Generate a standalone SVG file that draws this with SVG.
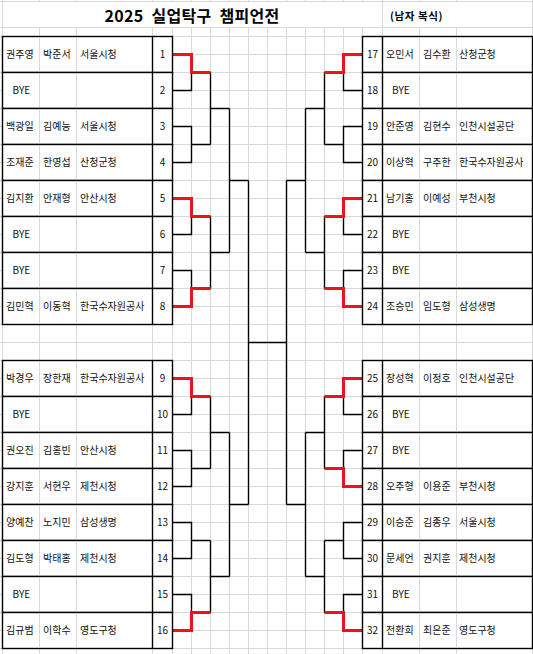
<svg xmlns="http://www.w3.org/2000/svg" width="533" height="654" viewBox="0 0 533 654">
<style>
.gr{stroke:#d9d9d9;stroke-width:1;fill:none}
.b{stroke:#000;stroke-width:1.4;fill:none}
.cell{fill:#fff;stroke:#000;stroke-width:1.4}
.r{stroke:#e8161c;stroke-width:3;fill:none}
text{font-family:"Noto Sans CJK KR","Noto Sans",sans-serif;font-size:10px;fill:#111}
.num{text-anchor:middle}
.title{font-size:16px;font-weight:bold;text-anchor:middle;fill:#000;word-spacing:4px;letter-spacing:0.3px}
.sub{font-size:10.5px;font-weight:bold;fill:#000;letter-spacing:0.6px}
</style>
<rect width="533" height="654" fill="#fff"/>
<g id="grid">
<path class="gr" d="M0,1.5H533M0,27.5H533M0,36.5H533M0,54.5H533M0,72.5H533M0,90.5H533M0,108.5H533M0,126.5H533M0,144.5H533M0,162.5H533M0,180.5H533M0,198.5H533M0,216.5H533M0,234.5H533M0,252.5H533M0,270.5H533M0,288.5H533M0,306.5H533M0,324.5H533M0,342.5H533M0,360.5H533M0,378.5H533M0,396.5H533M0,414.5H533M0,432.5H533M0,450.5H533M0,468.5H533M0,486.5H533M0,504.5H533M0,522.5H533M0,540.5H533M0,558.5H533M0,576.5H533M0,594.5H533M0,612.5H533M0,630.5H533M0,648.5H533"/>
<path class="gr" d="M2.5,0V654M39.5,0V654M76.5,0V654M152.5,0V654M172.5,0V654M191.5,0V654M210.5,0V654M229.5,0V654M248.5,0V654M267.5,0V654M286.5,0V654M305.5,0V654M324.5,0V654M343.5,0V654M362.5,0V654M382.5,0V654M419.5,0V654M456.5,0V654M532.5,0V654"/>
<rect x="3" y="2" width="379" height="25" fill="#fff"/>
<rect x="383" y="2" width="149" height="25" fill="#fff"/>
</g>
<g id="title">
<text class="title" x="192" y="21.5">2025 실업탁구 챔피언전</text>
<text class="sub" x="390" y="19.5">(남자 복식)</text>
</g>
<g id="connectors">
<path class="b" d="M172.5,54.5H191.5V90.5H172.5M172.5,126.5H191.5V162.5H172.5M172.5,198.5H191.5V234.5H172.5M172.5,270.5H191.5V306.5H172.5M191.5,72.5H210.5M191.5,144.5H210.5M191.5,216.5H210.5M191.5,288.5H210.5M210.5,72.5V144.5M210.5,216.5V288.5M210.5,108.5H229.5M210.5,252.5H229.5M229.5,108.5V252.5M229.5,180.5H248.5"/>
<path class="b" d="M172.5,378.5H191.5V414.5H172.5M172.5,450.5H191.5V486.5H172.5M172.5,522.5H191.5V558.5H172.5M172.5,594.5H191.5V630.5H172.5M191.5,396.5H210.5M191.5,468.5H210.5M191.5,540.5H210.5M191.5,612.5H210.5M210.5,396.5V468.5M210.5,540.5V612.5M210.5,432.5H229.5M210.5,576.5H229.5M229.5,432.5V576.5M229.5,504.5H248.5"/>
<path class="b" d="M248.5,180.5V504.5M248.5,342.5H286.5M286.5,180.5V504.5"/>
<path class="b" d="M362.5,54.5H343.5V90.5H362.5M362.5,126.5H343.5V162.5H362.5M362.5,198.5H343.5V234.5H362.5M362.5,270.5H343.5V306.5H362.5M343.5,72.5H324.5M343.5,144.5H324.5M343.5,216.5H324.5M343.5,288.5H324.5M324.5,72.5V144.5M324.5,216.5V288.5M324.5,108.5H305.5M324.5,252.5H305.5M305.5,108.5V252.5M305.5,180.5H286.5"/>
<path class="b" d="M362.5,378.5H343.5V414.5H362.5M362.5,450.5H343.5V486.5H362.5M362.5,522.5H343.5V558.5H362.5M362.5,594.5H343.5V630.5H362.5M343.5,396.5H324.5M343.5,468.5H324.5M343.5,540.5H324.5M343.5,612.5H324.5M324.5,396.5V468.5M324.5,540.5V612.5M324.5,432.5H305.5M324.5,576.5H305.5M305.5,432.5V576.5M305.5,504.5H286.5"/>
<path class="r" d="M172.5,54.5H191.5V72.5H210.5M172.5,198.5H191.5V216.5H210.5M172.5,306.5H191.5V288.5H210.5M172.5,378.5H191.5V396.5H210.5M172.5,630.5H191.5V612.5H210.5"/>
<path class="r" d="M362.5,54.5H343.5V72.5H324.5M362.5,198.5H343.5V216.5H324.5M362.5,306.5H343.5V288.5H324.5M362.5,378.5H343.5V396.5H324.5M362.5,486.5H343.5V468.5H324.5M362.5,630.5H343.5V612.5H324.5"/>
</g>
<g id="e1"><rect class="cell" x="2.5" y="36.5" width="170" height="36"/><path class="gr" d="M39.5,37.5V71.5M76.5,37.5V71.5"/><path class="b" d="M152.5,36.5V72.5"/><text x="6" y="58">권주영</text><text x="43" y="58">박준서</text><text x="80" y="58">서울시청</text><text class="num" x="162.5" y="58">1</text></g>
<g id="e2"><rect class="cell" x="2.5" y="72.5" width="170" height="36"/><path class="gr" d="M39.5,73.5V107.5M76.5,73.5V107.5"/><path class="b" d="M152.5,72.5V108.5"/><text x="12.5" y="94">BYE</text><text class="num" x="162.5" y="94">2</text></g>
<g id="e3"><rect class="cell" x="2.5" y="108.5" width="170" height="36"/><path class="gr" d="M39.5,109.5V143.5M76.5,109.5V143.5"/><path class="b" d="M152.5,108.5V144.5"/><text x="6" y="130">백광일</text><text x="43" y="130">김예능</text><text x="80" y="130">서울시청</text><text class="num" x="162.5" y="130">3</text></g>
<g id="e4"><rect class="cell" x="2.5" y="144.5" width="170" height="36"/><path class="gr" d="M39.5,145.5V179.5M76.5,145.5V179.5"/><path class="b" d="M152.5,144.5V180.5"/><text x="6" y="166">조재준</text><text x="43" y="166">한영섭</text><text x="80" y="166">산청군청</text><text class="num" x="162.5" y="166">4</text></g>
<g id="e5"><rect class="cell" x="2.5" y="180.5" width="170" height="36"/><path class="gr" d="M39.5,181.5V215.5M76.5,181.5V215.5"/><path class="b" d="M152.5,180.5V216.5"/><text x="6" y="202">김지환</text><text x="43" y="202">안재형</text><text x="80" y="202">안산시청</text><text class="num" x="162.5" y="202">5</text></g>
<g id="e6"><rect class="cell" x="2.5" y="216.5" width="170" height="36"/><path class="gr" d="M39.5,217.5V251.5M76.5,217.5V251.5"/><path class="b" d="M152.5,216.5V252.5"/><text x="12.5" y="238">BYE</text><text class="num" x="162.5" y="238">6</text></g>
<g id="e7"><rect class="cell" x="2.5" y="252.5" width="170" height="36"/><path class="gr" d="M39.5,253.5V287.5M76.5,253.5V287.5"/><path class="b" d="M152.5,252.5V288.5"/><text x="12.5" y="274">BYE</text><text class="num" x="162.5" y="274">7</text></g>
<g id="e8"><rect class="cell" x="2.5" y="288.5" width="170" height="36"/><path class="gr" d="M39.5,289.5V323.5M76.5,289.5V323.5"/><path class="b" d="M152.5,288.5V324.5"/><text x="6" y="310">김민혁</text><text x="43" y="310">이동혁</text><text x="80" y="310">한국수자원공사</text><text class="num" x="162.5" y="310">8</text></g>
<g id="e9"><rect class="cell" x="2.5" y="360.5" width="170" height="36"/><path class="gr" d="M39.5,361.5V395.5M76.5,361.5V395.5"/><path class="b" d="M152.5,360.5V396.5"/><text x="6" y="382">박경우</text><text x="43" y="382">장한재</text><text x="80" y="382">한국수자원공사</text><text class="num" x="162.5" y="382">9</text></g>
<g id="e10"><rect class="cell" x="2.5" y="396.5" width="170" height="36"/><path class="gr" d="M39.5,397.5V431.5M76.5,397.5V431.5"/><path class="b" d="M152.5,396.5V432.5"/><text x="12.5" y="418">BYE</text><text class="num" x="162.5" y="418">10</text></g>
<g id="e11"><rect class="cell" x="2.5" y="432.5" width="170" height="36"/><path class="gr" d="M39.5,433.5V467.5M76.5,433.5V467.5"/><path class="b" d="M152.5,432.5V468.5"/><text x="6" y="454">권오진</text><text x="43" y="454">김홍빈</text><text x="80" y="454">안산시청</text><text class="num" x="162.5" y="454">11</text></g>
<g id="e12"><rect class="cell" x="2.5" y="468.5" width="170" height="36"/><path class="gr" d="M39.5,469.5V503.5M76.5,469.5V503.5"/><path class="b" d="M152.5,468.5V504.5"/><text x="6" y="490">강지훈</text><text x="43" y="490">서현우</text><text x="80" y="490">제천시청</text><text class="num" x="162.5" y="490">12</text></g>
<g id="e13"><rect class="cell" x="2.5" y="504.5" width="170" height="36"/><path class="gr" d="M39.5,505.5V539.5M76.5,505.5V539.5"/><path class="b" d="M152.5,504.5V540.5"/><text x="6" y="526">양예찬</text><text x="43" y="526">노지민</text><text x="80" y="526">삼성생명</text><text class="num" x="162.5" y="526">13</text></g>
<g id="e14"><rect class="cell" x="2.5" y="540.5" width="170" height="36"/><path class="gr" d="M39.5,541.5V575.5M76.5,541.5V575.5"/><path class="b" d="M152.5,540.5V576.5"/><text x="6" y="562">김도형</text><text x="43" y="562">박태홍</text><text x="80" y="562">제천시청</text><text class="num" x="162.5" y="562">14</text></g>
<g id="e15"><rect class="cell" x="2.5" y="576.5" width="170" height="36"/><path class="gr" d="M39.5,577.5V611.5M76.5,577.5V611.5"/><path class="b" d="M152.5,576.5V612.5"/><text x="12.5" y="598">BYE</text><text class="num" x="162.5" y="598">15</text></g>
<g id="e16"><rect class="cell" x="2.5" y="612.5" width="170" height="36"/><path class="gr" d="M39.5,613.5V647.5M76.5,613.5V647.5"/><path class="b" d="M152.5,612.5V648.5"/><text x="6" y="634">김규범</text><text x="43" y="634">이학수</text><text x="80" y="634">영도구청</text><text class="num" x="162.5" y="634">16</text></g>
<g id="e17"><rect class="cell" x="362.5" y="36.5" width="170" height="36"/><path class="gr" d="M419.5,37.5V71.5M456.5,37.5V71.5"/><path class="b" d="M382.5,36.5V72.5"/><text class="num" x="372.5" y="58">17</text><text x="386" y="58">오민서</text><text x="423" y="58">김수환</text><text x="459" y="58">산청군청</text></g>
<g id="e18"><rect class="cell" x="362.5" y="72.5" width="170" height="36"/><path class="gr" d="M419.5,73.5V107.5M456.5,73.5V107.5"/><path class="b" d="M382.5,72.5V108.5"/><text class="num" x="372.5" y="94">18</text><text x="392" y="94">BYE</text></g>
<g id="e19"><rect class="cell" x="362.5" y="108.5" width="170" height="36"/><path class="gr" d="M419.5,109.5V143.5M456.5,109.5V143.5"/><path class="b" d="M382.5,108.5V144.5"/><text class="num" x="372.5" y="130">19</text><text x="386" y="130">안준영</text><text x="423" y="130">김현수</text><text x="459" y="130">인천시설공단</text></g>
<g id="e20"><rect class="cell" x="362.5" y="144.5" width="170" height="36"/><path class="gr" d="M419.5,145.5V179.5M456.5,145.5V179.5"/><path class="b" d="M382.5,144.5V180.5"/><text class="num" x="372.5" y="166">20</text><text x="386" y="166">이상혁</text><text x="423" y="166">구주한</text><text x="459" y="166">한국수자원공사</text></g>
<g id="e21"><rect class="cell" x="362.5" y="180.5" width="170" height="36"/><path class="gr" d="M419.5,181.5V215.5M456.5,181.5V215.5"/><path class="b" d="M382.5,180.5V216.5"/><text class="num" x="372.5" y="202">21</text><text x="386" y="202">남기홍</text><text x="423" y="202">이예성</text><text x="459" y="202">부천시청</text></g>
<g id="e22"><rect class="cell" x="362.5" y="216.5" width="170" height="36"/><path class="gr" d="M419.5,217.5V251.5M456.5,217.5V251.5"/><path class="b" d="M382.5,216.5V252.5"/><text class="num" x="372.5" y="238">22</text><text x="392" y="238">BYE</text></g>
<g id="e23"><rect class="cell" x="362.5" y="252.5" width="170" height="36"/><path class="gr" d="M419.5,253.5V287.5M456.5,253.5V287.5"/><path class="b" d="M382.5,252.5V288.5"/><text class="num" x="372.5" y="274">23</text><text x="392" y="274">BYE</text></g>
<g id="e24"><rect class="cell" x="362.5" y="288.5" width="170" height="36"/><path class="gr" d="M419.5,289.5V323.5M456.5,289.5V323.5"/><path class="b" d="M382.5,288.5V324.5"/><text class="num" x="372.5" y="310">24</text><text x="386" y="310">조승민</text><text x="423" y="310">임도형</text><text x="459" y="310">삼성생명</text></g>
<g id="e25"><rect class="cell" x="362.5" y="360.5" width="170" height="36"/><path class="gr" d="M419.5,361.5V395.5M456.5,361.5V395.5"/><path class="b" d="M382.5,360.5V396.5"/><text class="num" x="372.5" y="382">25</text><text x="386" y="382">장성혁</text><text x="423" y="382">이정호</text><text x="459" y="382">인천시설공단</text></g>
<g id="e26"><rect class="cell" x="362.5" y="396.5" width="170" height="36"/><path class="gr" d="M419.5,397.5V431.5M456.5,397.5V431.5"/><path class="b" d="M382.5,396.5V432.5"/><text class="num" x="372.5" y="418">26</text><text x="392" y="418">BYE</text></g>
<g id="e27"><rect class="cell" x="362.5" y="432.5" width="170" height="36"/><path class="gr" d="M419.5,433.5V467.5M456.5,433.5V467.5"/><path class="b" d="M382.5,432.5V468.5"/><text class="num" x="372.5" y="454">27</text><text x="392" y="454">BYE</text></g>
<g id="e28"><rect class="cell" x="362.5" y="468.5" width="170" height="36"/><path class="gr" d="M419.5,469.5V503.5M456.5,469.5V503.5"/><path class="b" d="M382.5,468.5V504.5"/><text class="num" x="372.5" y="490">28</text><text x="386" y="490">오주형</text><text x="423" y="490">이용준</text><text x="459" y="490">부천시청</text></g>
<g id="e29"><rect class="cell" x="362.5" y="504.5" width="170" height="36"/><path class="gr" d="M419.5,505.5V539.5M456.5,505.5V539.5"/><path class="b" d="M382.5,504.5V540.5"/><text class="num" x="372.5" y="526">29</text><text x="386" y="526">이승준</text><text x="423" y="526">김종우</text><text x="459" y="526">서울시청</text></g>
<g id="e30"><rect class="cell" x="362.5" y="540.5" width="170" height="36"/><path class="gr" d="M419.5,541.5V575.5M456.5,541.5V575.5"/><path class="b" d="M382.5,540.5V576.5"/><text class="num" x="372.5" y="562">30</text><text x="386" y="562">문세언</text><text x="423" y="562">권지훈</text><text x="459" y="562">제천시청</text></g>
<g id="e31"><rect class="cell" x="362.5" y="576.5" width="170" height="36"/><path class="gr" d="M419.5,577.5V611.5M456.5,577.5V611.5"/><path class="b" d="M382.5,576.5V612.5"/><text class="num" x="372.5" y="598">31</text><text x="392" y="598">BYE</text></g>
<g id="e32"><rect class="cell" x="362.5" y="612.5" width="170" height="36"/><path class="gr" d="M419.5,613.5V647.5M456.5,613.5V647.5"/><path class="b" d="M382.5,612.5V648.5"/><text class="num" x="372.5" y="634">32</text><text x="386" y="634">전환희</text><text x="423" y="634">최은준</text><text x="459" y="634">영도구청</text></g>
</svg>
